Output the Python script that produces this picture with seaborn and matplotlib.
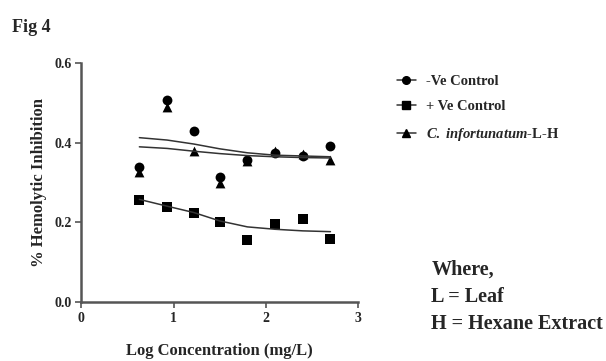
import numpy as np
import pandas as pd
import matplotlib
matplotlib.use('Agg')
import matplotlib.pyplot as plt
from matplotlib.lines import Line2D
import seaborn as sns

# log concentration (mg/L)
log_conc = [0.63, 0.93, 1.22, 1.50, 1.80, 2.10, 2.40, 2.70]

# % hemolytic inhibition
neg_control = [0.340, 0.507, 0.430, 0.315, 0.358, 0.374, 0.367, 0.392]
pos_control = [0.256, 0.239, 0.224, 0.201, 0.157, 0.195, 0.208, 0.158]
c_inf_lh = [0.327, 0.489, 0.380, 0.298, 0.355, 0.379, 0.373, 0.356]

# fitted curves as drawn in the figure
neg_fit = [0.413, 0.407, 0.397, 0.385, 0.375, 0.369, 0.367, 0.365]
pos_fit = [0.258, 0.241, 0.225, 0.204, 0.189, 0.183, 0.179, 0.177]
c_inf_fit = [0.390, 0.386, 0.379, 0.373, 0.368, 0.365, 0.363, 0.362]

labels = ['-Ve Control', '+ Ve Control', r'$\mathit{C.\ infortunatum}$-L-H']
markers = ['o', 's', '^']

sns.set_style('ticks')
plt.rcParams['font.family'] = ['Liberation Serif', 'DejaVu Serif']
plt.rcParams['font.weight'] = 'bold'
plt.rcParams['mathtext.fontset'] = 'custom'
plt.rcParams['mathtext.it'] = 'Liberation Serif:italic:bold'
plt.rcParams['mathtext.rm'] = 'Liberation Serif:bold'

df = pd.DataFrame({'x': log_conc * 3,
                   'y': neg_control + pos_control + c_inf_lh,
                   'fit': neg_fit + pos_fit + c_inf_fit,
                   'group': [labels[0]] * 8 + [labels[1]] * 8 + [labels[2]] * 8})

fig = plt.figure(figsize=(6.06, 3.61), dpi=100)
ax = fig.add_axes([0.134, 0.163, 0.457, 0.662])

for lab, mk in zip(labels, markers):
    sub = df[df['group'] == lab]
    sns.lineplot(data=sub, x='x', y='fit', ax=ax, color='#333333', linewidth=1.1, legend=False)
    sns.scatterplot(data=sub, x='x', y='y', ax=ax, marker=mk, color='black', s=50,
                    edgecolor='black', linewidth=0, legend=False)

ax.set_xlim(0, 3)
ax.set_ylim(0, 0.6)
ax.set_xticks([0, 1, 2, 3])
ax.set_yticks([0.0, 0.2, 0.4, 0.6])
ax.set_yticklabels(['0.0', '0.2', '0.4', '0.6'])
ax.tick_params(labelsize=10, width=1.2, length=4, color='#555555', pad=3)
for s in ['left', 'bottom']:
    ax.spines[s].set_linewidth(1.8)
    ax.spines[s].set_color('#555555')
sns.despine(ax=ax)
ax.set_xlabel('Log Concentration (mg/L)', fontsize=12, fontweight='bold', labelpad=13)
ax.set_ylabel('% Hemolytic Inhibition', fontsize=12, fontweight='bold', labelpad=5)

handles = [Line2D([], [], color='#333333', linewidth=1.1, marker=mk, markersize=5.5,
                  markerfacecolor='black', markeredgecolor='black') for mk in markers]
fig.legend(handles, labels, loc='upper left', bbox_to_anchor=(0.645, 0.81), frameon=False,
           fontsize=10.5, handlelength=1.3, handletextpad=0.7, labelspacing=0.85,
           borderaxespad=0)

fig.text(0.02, 0.91, 'Fig 4', fontsize=13, fontweight='bold')
fig.text(0.712, 0.09, 'Where,\nL = Leaf\nH = Hexane Extract', fontsize=14.5,
         fontweight='bold', linespacing=1.45)

fig.savefig('out.png', dpi=100)
